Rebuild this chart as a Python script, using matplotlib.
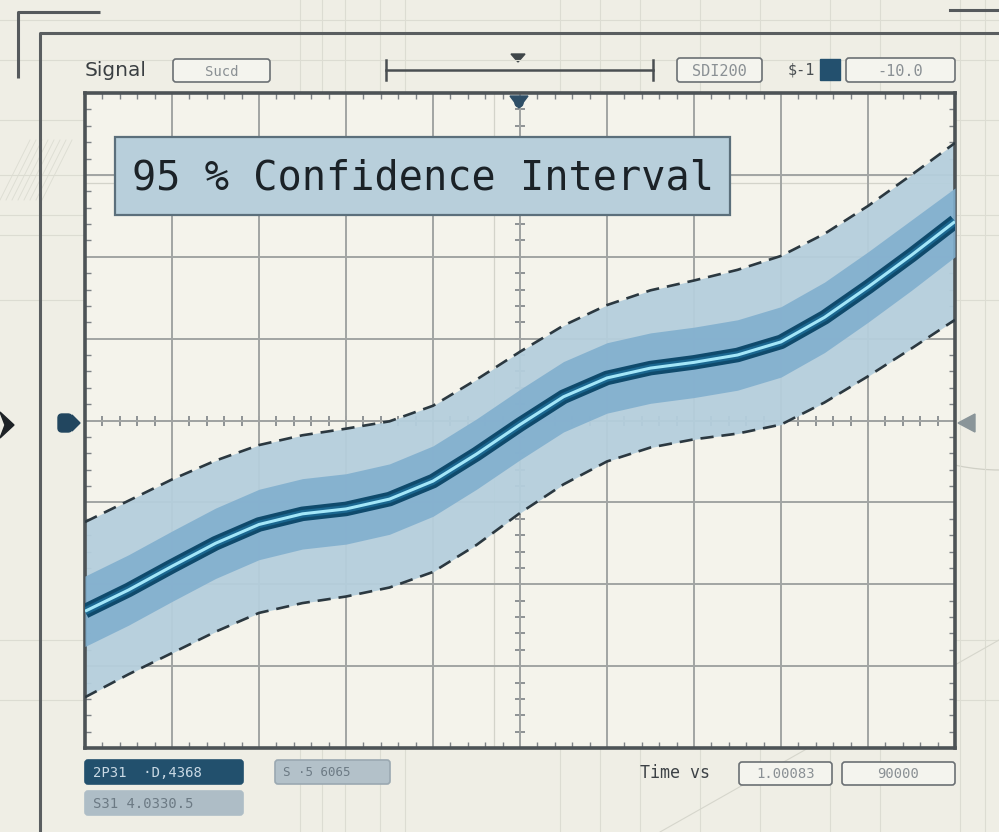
import numpy as np
import matplotlib
matplotlib.use("Agg")
import matplotlib.pyplot as plt
from matplotlib.patches import Rectangle, FancyBboxPatch, Polygon, Arc, Circle

# ---------------- data (in screen divisions) ----------------
t = [0, 0.5, 1, 1.5, 2, 2.5, 3, 3.5, 4, 4.5, 5, 5.5, 6, 6.5, 7, 7.5, 8, 8.5, 9, 9.5, 10]
center = [-2.33, -2.07, -1.78, -1.50, -1.27, -1.14, -1.08, -0.96, -0.74, -0.41, -0.05,
          0.29, 0.52, 0.64, 0.71, 0.80, 0.96, 1.26, 1.63, 2.02, 2.43]
inner_upper = [-1.90, -1.64, -1.35, -1.07, -0.84, -0.71, -0.65, -0.53, -0.31, 0.02, 0.38,
               0.72, 0.95, 1.07, 1.14, 1.23, 1.39, 1.69, 2.06, 2.45, 2.84]
inner_lower = [-2.76, -2.50, -2.21, -1.93, -1.70, -1.57, -1.51, -1.39, -1.17, -0.84, -0.48,
               -0.14, 0.09, 0.21, 0.28, 0.37, 0.53, 0.83, 1.20, 1.59, 2.00]
ci_upper = [-1.24, -0.98, -0.72, -0.49, -0.30, -0.18, -0.10, -0.01, 0.18, 0.50, 0.84,
            1.16, 1.41, 1.59, 1.71, 1.84, 2.01, 2.28, 2.62, 3.00, 3.39]
ci_lower = [-3.38, -3.10, -2.84, -2.58, -2.35, -2.23, -2.15, -2.04, -1.85, -1.52, -1.13,
            -0.78, -0.50, -0.33, -0.23, -0.16, -0.05, 0.22, 0.54, 0.88, 1.23]

title_text = "95 % Confidence Interval"
header_label = "Signal"
header_box1 = "Sucd"
header_box2 = "SDI200"
header_small = "$-1"
header_box3 = "-10.0"
footer_dark = "2P31  ·D,4368"
footer_gray = "S31 4.0330.5"
footer_mid = "S ·5 6065"
footer_label = "Time vs"
footer_box1 = "1.00083"
footer_box2 = "90000"

# ---------------- figure ----------------
W, H = 999, 832
fig = plt.figure(figsize=(W / 100, H / 100), dpi=100)
fig.patch.set_facecolor("#efeee5")

def fx(px):
    return px / W

def fy(py):
    return 1 - py / H

# background layer in pixel coordinates
bg = fig.add_axes([0, 0, 1, 1], zorder=0)
bg.set_xlim(0, W)
bg.set_ylim(H, 0)
bg.axis("off")
for xv in [300, 322, 345, 380, 405, 560, 600, 640, 700, 760, 830, 880, 960, 985]:
    bg.plot([xv, xv], [0, H], color="#dcdcd2", lw=0.8)
for yv in [20, 60, 120, 175, 215, 235, 300, 640, 700]:
    bg.plot([0, W], [yv, yv], color="#dcdcd2", lw=0.8)
bg.add_patch(Arc((1000, 260), 420, 420, theta1=90, theta2=180, color="#d0d0c6", lw=0.9))
bg.add_patch(Arc((900, 900), 700, 520, theta1=95, theta2=170, color="#d0d0c6", lw=0.9))
bg.plot([660, 999], [832, 640], color="#d6d6cc", lw=0.8)
for k in range(8):
    bg.plot([0 + k * 6, 30 + k * 6], [200, 140], color="#dcdcd2", lw=0.6)
bg.plot([18, 18, 100], [78, 12, 12], color="#55595c", lw=2.2, solid_capstyle="butt")
bg.plot([950, 999], [10, 10], color="#55595c", lw=2.2)
bg.plot([40, 40, 999], [832, 33, 33], color="#5a5e60", lw=2.2)
bg.add_patch(Polygon([[0, 412], [14, 425], [0, 438], [5, 425]], closed=True, color="#1d2226"))

# ---------------- header ----------------
bg.text(85, 70, header_label, fontsize=14.5, color="#3a3f42", va="center", ha="left",
        family="DejaVu Sans", fontweight="medium")

def box(x0, y0, x1, y1, text, face="#f4f4ee", edge="#6b7074", tcolor="#8a9094", size=10,
        ha="center", lw=1.2, family="DejaVu Sans Mono"):
    bg.add_patch(FancyBboxPatch((x0, y0), x1 - x0, y1 - y0,
                                boxstyle="round,pad=0,rounding_size=3",
                                facecolor=face, edgecolor=edge, lw=lw, zorder=3))
    tx = (x0 + x1) / 2 if ha == "center" else x0 + 8
    bg.text(tx, (y0 + y1) / 2 + 1, text, fontsize=size, color=tcolor, ha=ha,
            va="center", family=family, zorder=4)

box(173, 59, 270, 82, header_box1)
bg.plot([386, 653], [70, 70], color="#4a4f52", lw=1.8)
bg.plot([386, 386], [60, 80], color="#4a4f52", lw=1.8)
bg.plot([653, 653], [60, 80], color="#4a4f52", lw=1.8)
bg.add_patch(Polygon([[511, 54], [525, 54], [518, 62]], closed=True, color="#3f4649"))
box(677, 58, 762, 82, header_box2, size=11)
bg.text(788, 70, header_small, fontsize=11, color="#4a4f52", va="center", ha="left",
        family="DejaVu Sans Mono")
bg.add_patch(Rectangle((820, 59), 20, 21, color="#23506e", zorder=3))
box(846, 58, 955, 82, header_box3, size=11)

# ---------------- footer ----------------
box(85, 760, 243, 784, footer_dark, face="#22506d", edge="#22506d", tcolor="#c9d9e4",
    size=10, ha="left")
box(85, 791, 243, 815, footer_gray, face="#aebdc6", edge="#aebdc6", tcolor="#6c7a84",
    size=10, ha="left")
box(275, 760, 390, 784, footer_mid, face="#b3c1c9", edge="#9aa8b1", tcolor="#6c7a84",
    size=9, ha="left")
bg.text(640, 773, footer_label, fontsize=12, color="#3d4246", va="center", ha="left",
        family="DejaVu Sans Mono")
box(739, 762, 832, 785, footer_box1, size=10)
box(842, 762, 955, 785, footer_box2, size=10)

# ---------------- main scope axes ----------------
ax = fig.add_axes([fx(85), fy(748), fx(955) - fx(85), fy(93) - fy(748)], zorder=2)
ax.set_facecolor("#f4f3eb")
ax.set_xlim(0, 10)
ax.set_ylim(-4, 4)

ax.set_xticks(range(0, 11))
ax.set_yticks(range(-4, 5))
ax.set_xticks(np.arange(0, 10.01, 0.2), minor=True)
ax.set_yticks(np.arange(-4, 4.01, 0.2), minor=True)
ax.tick_params(which="both", direction="in", top=True, right=True,
               labelbottom=False, labelleft=False)
ax.tick_params(which="major", length=0)
ax.tick_params(which="minor", length=4, width=1, color="#7d8285")
ax.grid(True, which="major", color="#a1a4a3", lw=1.4)
for s in ax.spines.values():
    s.set_color("#4d5356")
    s.set_linewidth(2.6)

ax.axhline(3.0, color="#d3d3ca", lw=0.9, zorder=0.5)
ax.axhline(2.9, color="#d3d3ca", lw=0.9, zorder=0.5)
ax.axvline(4.7, color="#d3d3ca", lw=0.9, zorder=0.5)

ax.axhline(0, color="#7d8285", lw=1.3, zorder=1)
ax.axvline(5, color="#7d8285", lw=1.3, zorder=1)
cross = np.arange(0, 10.01, 0.2)
ax.plot(cross, np.zeros_like(cross), ls="none", marker="|", ms=7, mew=1.2,
        color="#7d8285", zorder=1)
crossy = np.arange(-4, 4.01, 0.2)
ax.plot(np.full_like(crossy, 5), crossy, ls="none", marker="_", ms=7, mew=1.2,
        color="#7d8285", zorder=1)

# confidence bands
ax.fill_between(t, ci_lower, ci_upper, color="#b5cfdd", alpha=0.95, lw=0, zorder=2)
ax.fill_between(t, inner_lower, inner_upper, color="#81afce", alpha=0.9, lw=0, zorder=3)
ax.plot(t, ci_upper, color="#2b3840", lw=1.9, ls=(0, (5, 3)), zorder=4,
        dash_joinstyle="round")
ax.plot(t, ci_lower, color="#2b3840", lw=1.9, ls=(0, (5, 3)), zorder=4,
        dash_joinstyle="round")

# main trace
ax.plot(t, center, color="#0f4a6c", lw=10.5, solid_capstyle="butt",
        solid_joinstyle="round", zorder=5)
ax.plot(t, center, color="#1b6790", lw=5.5, solid_capstyle="butt",
        solid_joinstyle="round", zorder=5)
ax.plot(t, center, color="#a3e6f8", lw=2.2, solid_capstyle="butt",
        solid_joinstyle="round", zorder=6)

# ---------------- overlay layer ----------------
ov = fig.add_axes([0, 0, 1, 1], zorder=5)
ov.set_xlim(0, W)
ov.set_ylim(H, 0)
ov.axis("off")
ov.patch.set_alpha(0)
ov.add_patch(Rectangle((115, 137), 615, 78, facecolor="#b8cfdb", edgecolor="#5b6f7b",
                       lw=1.6, zorder=2))
ov.text(132, 178, title_text, fontsize=29, family="DejaVu Sans Mono",
        color="#1b2227", ha="left", va="center", zorder=3)
ov.add_patch(Polygon([[510, 96], [528, 96], [519, 108]], closed=True, color="#2e4e66"))
ov.add_patch(Circle((519, 103), 4, color="#2e4e66"))
ov.add_patch(FancyBboxPatch((58, 414), 14, 18, boxstyle="round,pad=0,rounding_size=4",
                            color="#22465f"))
ov.add_patch(Polygon([[72, 415], [80, 423], [72, 431]], closed=True, color="#22465f"))
ov.add_patch(Polygon([[958, 423], [975, 414], [975, 432]], closed=True, color="#8a9599"))

fig.savefig("out.png", dpi=100, facecolor=fig.get_facecolor())
